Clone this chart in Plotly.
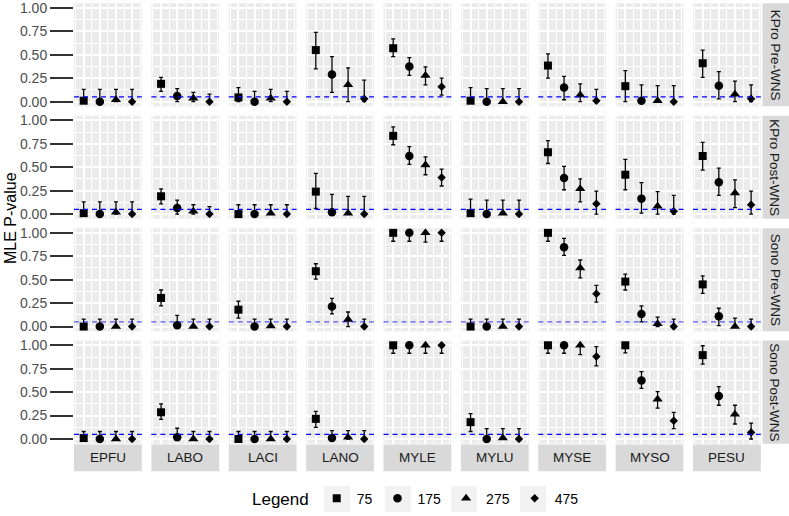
import plotly.graph_objects as go
from plotly.subplots import make_subplots

# ---------------- data ----------------
species = ["EPFU", "LABO", "LACI", "LANO", "MYLE", "MYLU", "MYSE", "MYSO", "PESU"]
sizes = ["75", "175", "275", "475"]
row_labels = ["KPro Pre-WNS", "KPro Post-WNS", "Sono Pre-WNS", "Sono Post-WNS"]

# each list: one entry per species, four values (sizes 75,175,275,475)
kpro_pre_est = [[0.01, 0.0, 0.02, 0.0], [0.19, 0.06, 0.035, 0.0], [0.045, 0.0, 0.035, 0.0],
                [0.55, 0.29, 0.18, 0.03], [0.57, 0.375, 0.28, 0.16], [0.01, 0.0, 0.0, 0.0],
                [0.385, 0.15, 0.07, 0.01], [0.165, 0.01, 0.01, 0.0], [0.41, 0.17, 0.08, 0.03]]
kpro_pre_lo = [[0, 0, 0, 0], [0.11, 0, 0, 0], [0, 0, 0, 0],
               [0.35, 0.10, 0, 0], [0.48, 0.28, 0.18, 0.07], [0, 0, 0, 0],
               [0.25, 0.02, 0, 0], [0, 0, 0, 0], [0.26, 0.03, 0, 0]]
kpro_pre_hi = [[0.13, 0.13, 0.13, 0.13], [0.26, 0.14, 0.10, 0.08], [0.15, 0.11, 0.13, 0.11],
               [0.74, 0.48, 0.36, 0.23], [0.67, 0.47, 0.37, 0.25], [0.15, 0.14, 0.14, 0.14],
               [0.51, 0.27, 0.19, 0.13], [0.33, 0.18, 0.17, 0.17], [0.55, 0.32, 0.22, 0.18]]

kpro_post_est = [[0.01, 0.0, 0.02, 0.0], [0.19, 0.065, 0.03, 0.0], [0.0, 0.0, 0.01, 0.0],
                 [0.24, 0.02, 0.01, 0.0], [0.835, 0.62, 0.525, 0.39], [0.01, 0.0, 0.01, 0.0],
                 [0.66, 0.385, 0.27, 0.11], [0.42, 0.165, 0.085, 0.03], [0.62, 0.34, 0.225, 0.10]]
kpro_post_lo = [[0, 0, 0, 0], [0.11, 0, 0, 0], [0, 0, 0, 0],
                [0.06, 0, 0, 0], [0.74, 0.53, 0.42, 0.30], [0, 0, 0, 0],
                [0.54, 0.26, 0.13, 0], [0.26, 0.01, 0, 0], [0.47, 0.20, 0.07, 0]]
kpro_post_hi = [[0.13, 0.13, 0.13, 0.13], [0.27, 0.15, 0.10, 0.08], [0.10, 0.10, 0.10, 0.10],
                [0.435, 0.21, 0.19, 0.19], [0.93, 0.72, 0.61, 0.48], [0.16, 0.15, 0.15, 0.15],
                [0.785, 0.51, 0.375, 0.245], [0.585, 0.335, 0.24, 0.20], [0.765, 0.49, 0.365, 0.245]]

sono_pre_est = [[0.0, 0.0, 0.0, 0.0], [0.305, 0.015, 0.0, 0.0], [0.18, 0.0, 0.005, 0.0],
                [0.59, 0.215, 0.075, 0.0], [1.0, 1.0, 1.0, 1.0], [0.0, 0.0, 0.0, 0.0],
                [1.0, 0.845, 0.625, 0.35], [0.48, 0.135, 0.03, 0.0], [0.45, 0.11, 0.0, 0.0]]
sono_pre_lo = [[0, 0, 0, 0], [0.22, 0, 0, 0], [0.09, 0, 0, 0],
               [0.505, 0.135, 0, 0], [0.91, 0.91, 0.90, 0.91], [0, 0, 0, 0],
               [0.91, 0.76, 0.52, 0.26], [0.39, 0.05, 0, 0], [0.355, 0.01, 0, 0]]
sono_pre_hi = [[0.08, 0.08, 0.08, 0.08], [0.39, 0.12, 0.08, 0.08], [0.27, 0.08, 0.08, 0.08],
               [0.67, 0.30, 0.155, 0.08], [1.0, 1.0, 1.0, 1.0], [0.08, 0.08, 0.08, 0.08],
               [1.0, 0.94, 0.71, 0.44], [0.56, 0.22, 0.10, 0.08], [0.54, 0.195, 0.09, 0.08]]

sono_post_est = [[0.01, 0.0, 0.0, 0.0], [0.285, 0.02, 0.0, 0.0], [0.0, 0.0, 0.0, 0.0],
                 [0.215, 0.01, 0.02, 0.0], [1.0, 1.0, 1.0, 1.0], [0.18, 0.0, 0.01, 0.0],
                 [1.0, 1.0, 1.0, 0.88], [1.0, 0.625, 0.425, 0.195], [0.895, 0.46, 0.265, 0.07]]
sono_post_lo = [[0, 0, 0, 0], [0.21, 0, 0, 0], [0, 0, 0, 0],
                [0.125, 0, 0, 0], [0.915, 0.915, 0.915, 0.915], [0.08, 0, 0, 0],
                [0.915, 0.915, 0.90, 0.78], [0.92, 0.54, 0.33, 0.11], [0.80, 0.36, 0.16, 0]]
sono_post_hi = [[0.08, 0.08, 0.08, 0.08], [0.375, 0.115, 0.08, 0.08], [0.08, 0.08, 0.08, 0.08],
                [0.295, 0.09, 0.09, 0.09], [1.0, 1.0, 1.0, 1.0], [0.27, 0.11, 0.11, 0.11],
                [1.0, 1.0, 1.0, 0.985], [1.0, 0.72, 0.505, 0.285], [0.995, 0.56, 0.36, 0.17]]

threshold = 0.05
y_ticks = [0, 0.25, 0.5, 0.75, 1.0]
y_ticktext = ["0.00", "0.25", "0.50", "0.75", "1.00"]

estimates = [kpro_pre_est, kpro_post_est, sono_pre_est, sono_post_est]
lowers = [kpro_pre_lo, kpro_post_lo, sono_pre_lo, sono_post_lo]
uppers = [kpro_pre_hi, kpro_post_hi, sono_pre_hi, sono_post_hi]

# ---------------- layout geometry (pixels) ----------------
W, H = 789, 516
col_left0, col_step, col_w = 74.0, 77.375, 67.8
row_top0, row_step, row_h = 0.25, 114.0, 104.5


def fx(p):
    return p / W


def fy(p):
    return 1 - p / H


symbols = ["square", "circle", "triangle-up", "diamond"]
msizes = [8, 8.5, 9, 6.5]
FONT = "Liberation Sans, Arial"

fig = make_subplots(rows=4, cols=9)

shapes = []
annotations = []
for r in range(4):
    for c in range(9):
        idx = r * 9 + c + 1
        sfx = "" if idx == 1 else str(idx)
        left = col_left0 + c * col_step
        top = row_top0 + r * row_step
        fig.layout["xaxis" + sfx].update(
            domain=[fx(left), fx(left + col_w)], range=[0.4, 4.6],
            tickvals=[1, 2, 3, 4], showticklabels=False, ticks="",
            showgrid=True, gridcolor="white", gridwidth=1.5, zeroline=False, showline=False,
            minor=dict(tickvals=[0.5, 1.5, 2.5, 3.5, 4.5], showgrid=True,
                       gridcolor="white", gridwidth=0.7, ticks=""),
        )
        yopts = dict(
            domain=[fy(top + row_h), fy(top)], range=[-0.05, 1.05],
            tickvals=y_ticks, ticktext=y_ticktext,
            showgrid=True, gridcolor="white", gridwidth=1.5, zeroline=False, showline=False,
            minor=dict(tickvals=[0.125, 0.375, 0.625, 0.875], showgrid=True,
                       gridcolor="white", gridwidth=0.7, ticks=""),
        )
        if c == 0:
            yopts.update(showticklabels=True, ticks="outside", ticklen=23, tickwidth=1.6,
                         tickcolor="#333333", ticklabeloverflow="allow",
                         tickfont=dict(family=FONT, size=14, color="#4D4D4D"))
        else:
            yopts.update(showticklabels=False, ticks="")
        fig.layout["yaxis" + sfx].update(**yopts)

        for s in range(4):
            e = estimates[r][c][s]
            lo = lowers[r][c][s]
            hi = uppers[r][c][s]
            fig.add_trace(go.Scatter(
                x=[s + 1], y=[e], mode="markers",
                name=sizes[s], legendgroup=sizes[s], showlegend=(idx == 1),
                marker=dict(symbol=symbols[s], size=msizes[s], color="black"),
                error_y=dict(type="data", symmetric=False, array=[hi - e], arrayminus=[e - lo],
                             color="black", thickness=1.3, width=2),
                cliponaxis=False,
            ), row=r + 1, col=c + 1)

        line_col = "rgba(0,0,255,0.62)" if r == 2 else "blue"
        shapes.append(dict(type="line", xref=("x" + sfx + " domain"), yref=("y" + sfx),
                           x0=0, x1=1, y0=threshold, y1=threshold, layer="above",
                           line=dict(color=line_col, width=1.3, dash="5px,4px")))

# right strips (row labels)
for r in range(4):
    top = row_top0 + r * row_step
    shapes.append(dict(type="rect", xref="paper", yref="paper", x0=fx(762.5), x1=fx(790),
                       y0=fy(top + row_h), y1=fy(top), fillcolor="#D9D9D9",
                       line=dict(width=0), layer="below"))
    annotations.append(dict(text=row_labels[r], xref="paper", yref="paper",
                            x=fx(775), y=fy(top + row_h / 2), showarrow=False, textangle=90,
                            font=dict(family=FONT, size=13.5, color="#1A1A1A"),
                            xanchor="center", yanchor="middle"))

# bottom strips (species labels)
bottom = row_top0 + 3 * row_step + row_h
for c in range(9):
    left = col_left0 + c * col_step
    shapes.append(dict(type="rect", xref="paper", yref="paper", x0=fx(left), x1=fx(left + col_w),
                       y0=fy(bottom + 28), y1=fy(bottom + 0.8), fillcolor="#D9D9D9",
                       line=dict(width=0), layer="below"))
    annotations.append(dict(text=species[c], xref="paper", yref="paper",
                            x=fx(left + col_w / 2), y=fy(bottom + 14.5), showarrow=False,
                            font=dict(family=FONT, size=13.5, color="#1A1A1A"),
                            xanchor="center", yanchor="middle"))

# legend key backgrounds (grey boxes behind the native legend symbols)
key_left_px = [324, 385, 451, 520]
for kx in key_left_px:
    shapes.append(dict(type="rect", xref="paper", yref="paper", x0=fx(kx), x1=fx(kx + 26),
                       y0=fy(516), y1=fy(489.5), fillcolor="#F2F2F2",
                       line=dict(width=0), layer="below"))

# y axis title
annotations.append(dict(text="MLE P-value", xref="paper", yref="paper", x=fx(10), y=fy(218),
                        showarrow=False, textangle=-90,
                        font=dict(family=FONT, size=16, color="black"),
                        xanchor="center", yanchor="middle"))

fig.update_layout(
    width=W, height=H, margin=dict(l=0, r=0, t=0, b=0),
    paper_bgcolor="white", plot_bgcolor="#EBEBEB",
    shapes=shapes, annotations=annotations,
    showlegend=True,
    legend=dict(orientation="h", x=fx(417), xanchor="center", y=fy(503), yanchor="middle",
                title=dict(text="Legend", side="left",
                           font=dict(family=FONT, size=17, color="black")),
                font=dict(family=FONT, size=14, color="black"),
                bgcolor="rgba(0,0,0,0)", itemclick=False, itemdoubleclick=False),
)

fig.write_html("out.html")
